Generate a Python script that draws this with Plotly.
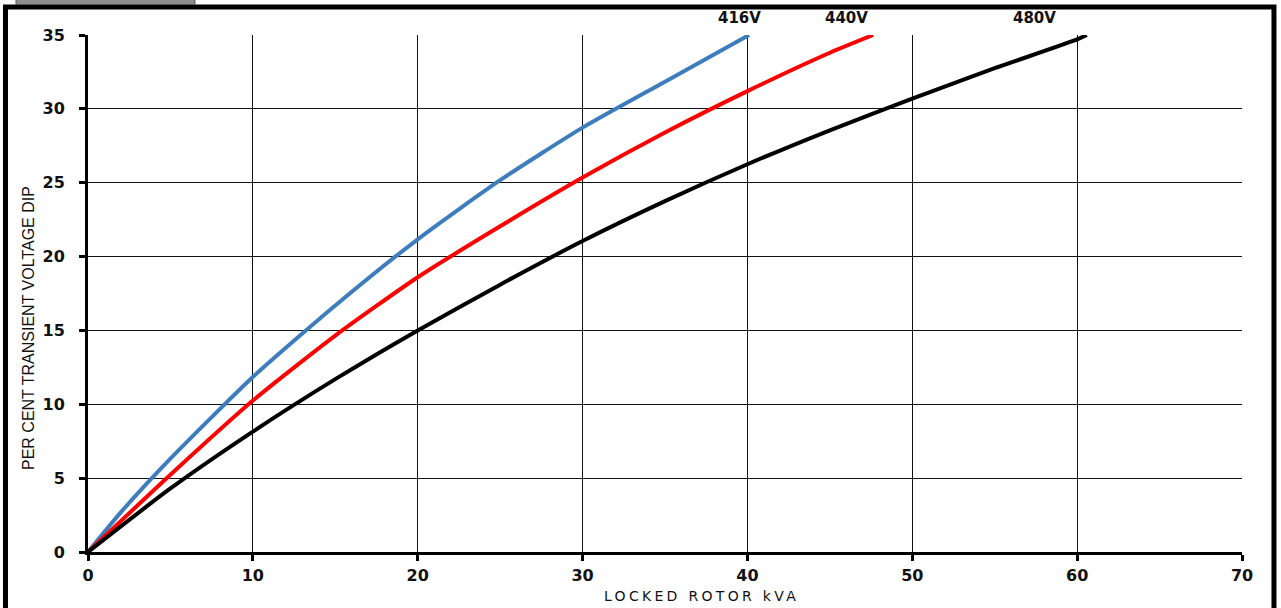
import plotly.graph_objects as go

# ---- data ----
x_416 = [0, 2, 5, 10, 15, 20, 25, 30, 35, 40.1]
y_416 = [0, 2.7, 6.32, 11.85, 16.69, 21.17, 25.17, 28.73, 31.84, 35]

x_440 = [0, 5, 10, 15, 20, 25, 30, 35, 40, 45, 47.63]
y_440 = [0, 5.23, 10.25, 14.65, 18.6, 22.05, 25.35, 28.4, 31.2, 33.8, 35]

x_480 = [0, 5, 10, 15, 20, 25, 30, 35, 40, 45, 50, 55, 60, 60.58]
y_480 = [0, 4.3, 8.15, 11.7, 15.0, 18.1, 21.05, 23.75, 26.25, 28.55, 30.7, 32.75, 34.7, 35]

series_names = ["416V", "440V", "480V"]
series_colors = ["#3d7dbd", "#ff0000", "#000000"]
label_x = [39.5, 46.0, 57.4]

x_ticks = [0, 10, 20, 30, 40, 50, 60, 70]
y_ticks = [0, 5, 10, 15, 20, 25, 30, 35]

x_title = "LOCKED ROTOR kVA"
y_title = "PER CENT TRANSIENT VOLTAGE DIP"

fig = go.Figure()
for xs, ys, name, col in zip([x_416, x_440, x_480], [y_416, y_440, y_480],
                             series_names, series_colors):
    fig.add_trace(go.Scatter(x=xs, y=ys, mode="lines", name=name,
                             line=dict(color=col, width=4, shape="spline", smoothing=0.6),
                             cliponaxis=False, showlegend=False))

for name, lx in zip(series_names, label_x):
    fig.add_annotation(x=lx, y=1.033, xref="x", yref="paper", text=name,
                       xanchor="center", yanchor="middle", showarrow=False,
                       font=dict(family="DejaVu Sans", size=15,
                                 color="#111", weight="bold"))

fig.add_annotation(x=0.5316, y=-0.0851, xref="paper", yref="paper",
                   text='<span style="letter-spacing:3.3px">' + x_title + '</span>',
                   xanchor="center", yanchor="middle", showarrow=False,
                   font=dict(family="DejaVu Sans", size=14, color="#111"))
fig.add_annotation(x=-0.0511, y=0.4333, xref="paper", yref="paper", text=y_title,
                   textangle=-90, xanchor="center", yanchor="middle", showarrow=False,
                   font=dict(family="Liberation Sans", size=16, color="#111"))

# outer frame and top-left tab
fig.add_shape(type="rect", xref="paper", yref="paper",
              x0=-0.0715, x1=1.0277, y0=-0.13, y1=1.0542,
              line=dict(color="black", width=5), fillcolor="rgba(0,0,0,0)", layer="below")
fig.add_shape(type="rect", xref="paper", yref="paper",
              x0=-0.0624, x1=0.0927, y0=1.0590, y1=1.075,
              line=dict(color="#555555", width=1), fillcolor="#8f8f8f", layer="below")

axis_font = dict(family="DejaVu Sans", size=16, color="#111", weight="bold")
fig.update_layout(
    xaxis=dict(range=[0, 70], tickvals=x_ticks, showgrid=True, gridcolor="#111",
               gridwidth=1.3, showline=True, linecolor="black", linewidth=3,
               ticks="outside", ticklen=6, tickwidth=3, tickcolor="black",
               tickfont=axis_font, ticklabelstandoff=1, zeroline=False,
               fixedrange=True),
    yaxis=dict(range=[0, 35], tickvals=y_ticks, showgrid=True, gridcolor="#111",
               gridwidth=1.3, showline=True, linecolor="black", linewidth=3,
               ticks="outside", ticklen=6, tickwidth=3, tickcolor="black",
               tickfont=axis_font, ticklabelstandoff=11, zeroline=False,
               fixedrange=True),
    # companion axes that draw the inner half of the crossing tick marks
    xaxis2=dict(range=[0, 70], tickvals=x_ticks, overlaying="x", side="bottom",
                anchor="y", showgrid=False, showline=False, zeroline=False,
                ticks="inside", ticklen=6, tickwidth=3, tickcolor="black",
                showticklabels=False, fixedrange=True),
    yaxis2=dict(range=[0, 35], tickvals=y_ticks, overlaying="y", side="left",
                anchor="x", showgrid=False, showline=False, zeroline=False,
                ticks="inside", ticklen=6, tickwidth=3, tickcolor="black",
                showticklabels=False, fixedrange=True),
    width=1281, height=608,
    margin=dict(l=88, r=39, t=35, b=56),
    paper_bgcolor="white", plot_bgcolor="white",
)

fig.write_html("out.html", config={"displayModeBar": False},
               post_script="document.body.style.margin='0';document.body.style.overflow='hidden';")
